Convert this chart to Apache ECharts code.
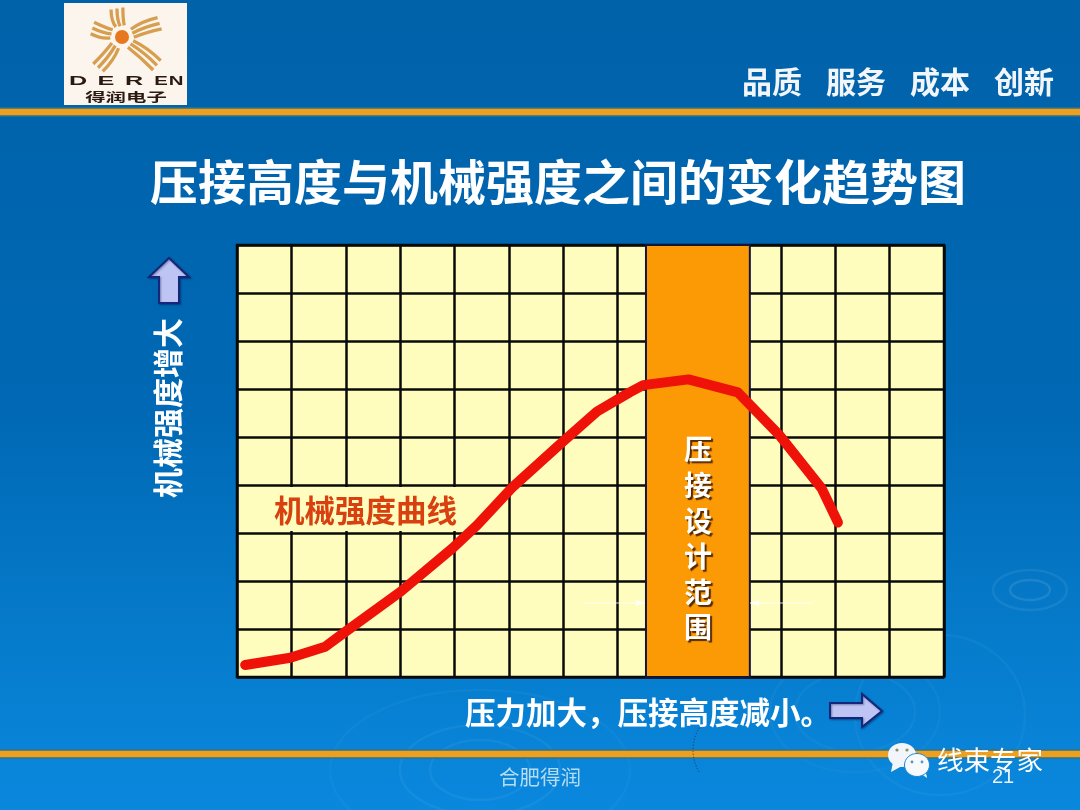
<!DOCTYPE html>
<html>
<head>
<meta charset="utf-8">
<style>
  html, body { margin: 0; padding: 0; }
  #chart { width: 1080px; height: 810px; }
</style>
<script src="https://cdn.jsdelivr.net/npm/echarts@6/dist/echarts.min.js"></script>
</head>
<body>
<div id="chart"></div>
<script>
// one grid cell = 1 unit
var curveX = [0.15, 0.98, 1.62, 1.99, 3.00, 3.97, 4.42, 5.08, 6.00, 6.62, 7.22, 7.47, 8.30, 9.21, 9.98, 10.75, 11.05];
var curveY = [0.25, 0.40, 0.63, 0.94, 1.77, 2.69, 3.17, 3.97, 4.91, 5.53, 5.93, 6.08, 6.20, 5.93, 5.03, 3.93, 3.22];
var bandRange = [7.52, 9.43];
var xCells = 13;
var yCells = 9;

var titleText = "压接高度与机械强度之间的变化趋势图";
var yLabel = "机械强度增大";
var xLabel = "压力加大，压接高度减小。";
var curveLabel = "机械强度曲线";
var bandLabel = "压接设计范围";
var mottoWords = ["品质", "服务", "成本", "创新"];

var cjk = '"Noto Sans CJK SC", sans-serif';
var textShadow = { shadowColor: "rgba(0,20,60,0.85)", shadowBlur: 2, shadowOffsetX: 2, shadowOffsetY: 2 };

function text(str, x, y, size, color, extra) {
  var style = {
    text: str, x: x, y: y, fill: color,
    font: (extra && extra.weight || "normal") + " " + size + "px " + (extra && extra.family || cjk),
    align: extra && extra.align || "left",
    verticalAlign: "middle"
  };
  if (extra && extra.shadow) Object.assign(style, textShadow);
  return { type: "text", z: extra && extra.z || 20, x: 0, y: 0, style: style };
}

function ring(cx, cy, rx, ry, alpha) {
  return {
    type: "ellipse", z: -5, silent: true,
    shape: { cx: cx, cy: cy, rx: rx, ry: ry },
    style: { fill: "none", stroke: "rgba(255,255,255," + alpha + ")", lineWidth: 2.5 }
  };
}

function bar(y) {
  return { type: "rect", z: 1, shape: { x: -3, y: y, width: 1086, height: 8 }, style: { fill: "#EE9F1E", stroke: "#2F7488", lineWidth: 1.5 } };
}

function arrow(points) {
  return {
    type: "polygon", z: 20, shape: { points: points },
    style: { fill: "#BEC4F4", stroke: "#14277A", lineWidth: 2, shadowColor: "rgba(0,20,60,0.4)", shadowBlur: 2, shadowOffsetX: 1, shadowOffsetY: 1 }
  };
}

// thin white pointer with a small head at the band edge
function pointer(x1, x2, y) {
  var dir = x2 > x1 ? 1 : -1;
  return [
    { type: "line", z: 20, shape: { x1: x1, y1: y, x2: x2, y2: y }, style: { stroke: "rgba(255,255,255,0.8)", lineWidth: 1.2 } },
    { type: "polygon", z: 20, shape: { points: [[x2, y], [x2 - dir * 9, y - 3], [x2 - dir * 9, y + 3]] }, style: { fill: "rgba(255,255,255,0.85)" } }
  ];
}

// logo: five bundles of three strokes around the sun
function logo() {
  var out = [{ type: "rect", z: 10, shape: { x: 64, y: 3, width: 123, height: 102 }, style: { fill: "#FCF5EE" } }];
  var cx = 122, cy = 37;
  [[-100, 29], [-20, 40], [39, 45], [128, 39], [197, 31]].forEach(function (ray) {
    [-6, 0, 6].forEach(function (off) {
      var a = ray[0] * Math.PI / 180;
      var nx = -Math.sin(a), ny = Math.cos(a);
      out.push({
        type: "bezierCurve", z: 11,
        shape: {
          x1: cx + Math.cos(a) * 11 + nx * off * 0.7, y1: cy + Math.sin(a) * 11 + ny * off * 0.7,
          cpx1: cx + Math.cos(a) * ray[1] * 0.6 + nx * (off - 2), cpy1: cy + Math.sin(a) * ray[1] * 0.6 + ny * (off - 2),
          x2: cx + Math.cos(a) * ray[1] + nx * off, y2: cy + Math.sin(a) * ray[1] + ny * off
        },
        style: { stroke: "#D89E50", lineWidth: 3.3, fill: "none" }
      });
    });
  });
  out.push({ type: "circle", z: 12, shape: { cx: cx, cy: cy, r: 7 }, style: { fill: "#E8781E" } });
  var letterX = [78, 106, 134, 161, 176];
  "DEREN".split("").forEach(function (ch, i) {
    out.push({
      type: "text", z: 12, x: letterX[i], y: 82, scaleX: i < 3 ? 2.1 : 1.7,
      style: { text: ch, x: 0, y: 0, fill: "#2A1A12", align: "center", verticalAlign: "middle", font: 'bold 12px "Liberation Sans", sans-serif' }
    });
  });
  out.push({
    type: "text", z: 12, x: 126, y: 97, scaleX: 1.7,
    style: { text: "得润电子", x: 0, y: 0, fill: "#2A1A12", align: "center", verticalAlign: "middle", font: "bold 12px " + cjk }
  });
  return out;
}

function wechat() {
  return [
    { type: "polygon", z: 20, shape: { points: [[893, 762], [891, 772], [902, 766]] }, style: { fill: "#F2F6FA" } },
    { type: "ellipse", z: 20, shape: { cx: 902, cy: 755, rx: 14, ry: 12 }, style: { fill: "#F2F6FA" } },
    { type: "polygon", z: 21, shape: { points: [[920, 773], [927, 778], [925, 768]] }, style: { fill: "#F6FAFD" } },
    { type: "ellipse", z: 21, shape: { cx: 917, cy: 765, rx: 12.5, ry: 11.5 }, style: { fill: "#F6FAFD", stroke: "#1C86D8", lineWidth: 1 } },
    { type: "circle", z: 22, shape: { cx: 897, cy: 750, r: 1.6 }, style: { fill: "#8A8F70" } },
    { type: "circle", z: 22, shape: { cx: 907, cy: 750, r: 1.6 }, style: { fill: "#8A8F70" } },
    { type: "circle", z: 22, shape: { cx: 912, cy: 762, r: 1.4 }, style: { fill: "#5D93BE" } },
    { type: "circle", z: 22, shape: { cx: 922, cy: 762, r: 1.4 }, style: { fill: "#5D93BE" } }
  ];
}

var graphics = []
  .concat([
    ring(1030, 590, 20, 10, 0.1), ring(1030, 590, 37, 20, 0.07),
    ring(940, 715, 85, 80, 0.04), ring(855, 712, 60, 40, 0.04), ring(855, 712, 85, 60, 0.03),
    ring(480, 770, 50, 30, 0.05), ring(480, 770, 80, 45, 0.05), ring(480, 770, 150, 80, 0.03)
  ])
  .concat([bar(108), bar(750)])
  .concat(logo())
  .concat(mottoWords.map(function (w, i) {
    return text(w, 742 + i * 84, 82, 30, "#F2F6FA", { shadow: true, weight: "bold" });
  }))
  .concat([
    text(titleText, 150, 182, 48, "#FFFFFF", { weight: "bold", shadow: true }),
    arrow([[169, 258], [189, 277], [179, 277], [179, 303], [159, 303], [159, 277], [149, 277]]),
    arrow([[830, 703], [862, 703], [862, 694], [882, 711], [862, 727], [862, 718], [830, 718]]),
    {
      type: "text", z: 20, x: 168, y: 408, rotation: Math.PI / 2,
      style: Object.assign({
        text: yLabel, x: 0, y: 0, fill: "#FFFFFF", align: "center", verticalAlign: "middle", font: "bold 30px " + cjk
      }, textShadow)
    },
    text(xLabel, 465, 712, 30.5, "#FFFFFF", { weight: "bold", shadow: true }),
    // cream patch that cuts the grid behind the curve name
    { type: "rect", z: 15, shape: { x: 270, y: 487, width: 194, height: 44 }, style: { fill: "#FEFDBE" } },
    {
      type: "text", z: 20, x: 0, y: 0,
      style: {
        text: curveLabel, x: 274, y: 510, fill: "#D8400F", font: "bold 30.5px " + cjk, verticalAlign: "middle",
        shadowColor: "rgba(60,50,20,0.7)", shadowBlur: 2, shadowOffsetX: 2, shadowOffsetY: 2
      }
    },
    text("合肥得润", 499, 777, 20.5, "#B6DCF2", {}),
    text("线束专家", 937, 760, 26.5, "#FFFFFF", { z: 23 }),
    text("21", 992, 777, 20, "#E8F2FA", { z: 23, family: '"Liberation Sans", sans-serif' }),
    {
      type: "arc", z: 2, shape: { cx: 735, cy: 750, r: 42, startAngle: 2.6, endAngle: 3.9 },
      style: { stroke: "#20304A", lineWidth: 1, lineDash: [1, 2], fill: "none" }
    }
  ])
  .concat(pointer(585, 645, 603))
  .concat(pointer(812, 750, 603))
  .concat(wechat());

var chart = echarts.init(document.getElementById("chart"), null, { renderer: "canvas" });

chart.setOption({
  animation: false,
  backgroundColor: {
    type: "linear", x: 0, y: 0, x2: 0, y2: 1,
    colorStops: [
      { offset: 0, color: "#0062A9" },
      { offset: 0.5, color: "#0068B4" },
      { offset: 0.75, color: "#0579C8" },
      { offset: 1, color: "#0A88DE" }
    ]
  },
  grid: {
    left: 237, top: 245, width: 707, height: 432,
    show: true, backgroundColor: "#FEFDBE", borderColor: "#0A0A0A", borderWidth: 2.5
  },
  xAxis: {
    type: "value", min: 0, max: xCells, interval: 1,
    axisLine: { show: false }, axisTick: { show: false }, axisLabel: { show: false },
    splitLine: { show: true, lineStyle: { color: "#0A0A0A", width: 2.5 } }
  },
  yAxis: {
    type: "value", min: 0, max: yCells, interval: 1,
    axisLine: { show: false }, axisTick: { show: false }, axisLabel: { show: false },
    splitLine: { show: true, lineStyle: { color: "#0A0A0A", width: 2.5 } }
  },
  series: [{
    type: "line",
    smooth: false,
    symbol: "none",
    z: 30,
    data: curveX.map(function (x, i) { return [x, curveY[i]]; }),
    lineStyle: { color: "#EE1208", width: 10, cap: "round", join: "round" },
    markArea: {
      silent: true,
      itemStyle: { color: "#FB9A05", borderColor: "#14143C", borderWidth: 2 },
      label: {
        show: true, position: "insideTop", distance: 188,
        formatter: bandLabel.split("").join("\n"),
        color: "#FFFFFF", fontFamily: "Noto Sans CJK SC", fontWeight: "bold", fontSize: 28, lineHeight: 35.6,
        textShadowColor: "rgba(70,30,0,0.9)", textShadowBlur: 1, textShadowOffsetX: 2, textShadowOffsetY: 2
      },
      data: [[{ xAxis: bandRange[0], yAxis: 0 }, { xAxis: bandRange[1], yAxis: yCells }]]
    }
  }],
  graphic: { elements: graphics }
});
</script>
</body>
</html>
